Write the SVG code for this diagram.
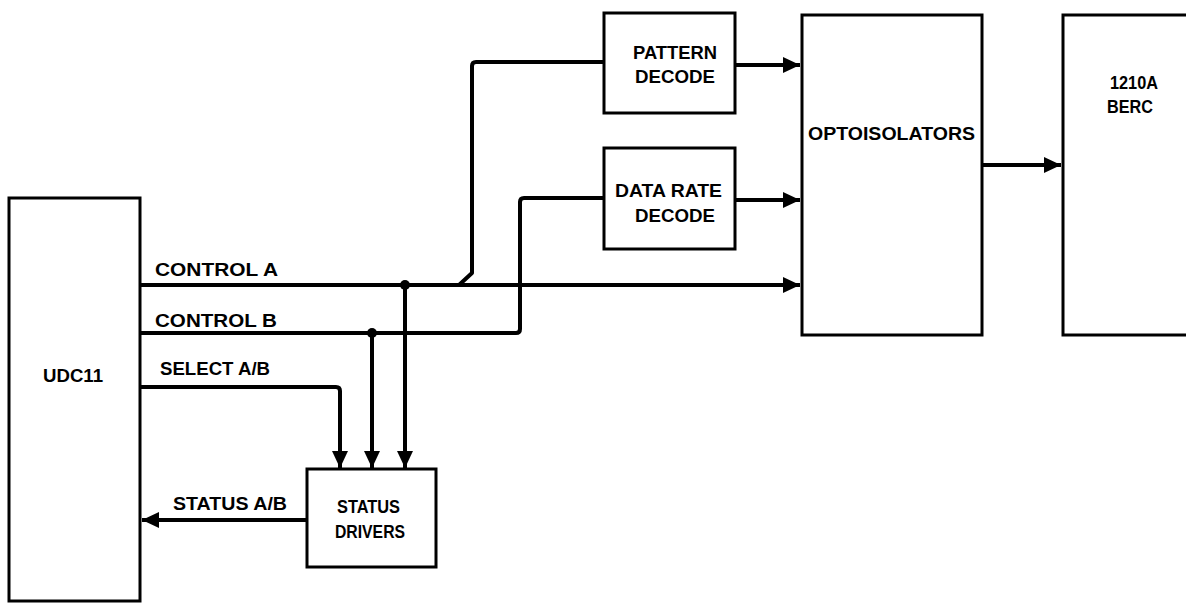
<svg xmlns="http://www.w3.org/2000/svg" width="1186" height="603" viewBox="0 0 1186 603">
<defs>
<style>
.box{fill:#fff;stroke:#000;stroke-width:3}
.ln{fill:none;stroke:#000;stroke-width:4;stroke-linejoin:round}
.t{font-family:"Liberation Sans",Arial,sans-serif;font-weight:bold;font-size:18px;fill:#000}
.dot{fill:#000}
</style>
<marker id="ah" markerWidth="17" markerHeight="16" refX="17" refY="8" orient="auto" markerUnits="userSpaceOnUse">
<path d="M0,0 L17,8 L0,16 Z" fill="#000"/>
</marker>
</defs>
<rect width="1186" height="603" fill="#fff"/>
<g id="udc11">
<rect class="box" x="9" y="198" width="131" height="403"/>
<text class="t" x="43" y="382" textLength="60" lengthAdjust="spacingAndGlyphs">UDC11</text>
</g>
<g id="pattern-decode">
<rect class="box" x="604" y="13" width="131" height="100"/>
<text class="t" x="633" y="59" textLength="84" lengthAdjust="spacingAndGlyphs">PATTERN</text>
<text class="t" x="635" y="83" textLength="80" lengthAdjust="spacingAndGlyphs">DECODE</text>
</g>
<g id="data-rate-decode">
<rect class="box" x="604" y="148" width="131" height="101"/>
<text class="t" x="615" y="197" textLength="107" lengthAdjust="spacingAndGlyphs">DATA RATE</text>
<text class="t" x="635" y="222" textLength="80" lengthAdjust="spacingAndGlyphs">DECODE</text>
</g>
<g id="optoisolators">
<rect class="box" x="802" y="15" width="180" height="320"/>
<text class="t" x="808" y="140" textLength="167" lengthAdjust="spacingAndGlyphs">OPTOISOLATORS</text>
</g>
<g id="berc">
<rect class="box" x="1063" y="15" width="140" height="320"/>
<text class="t" x="1110" y="89" textLength="48" lengthAdjust="spacingAndGlyphs">1210A</text>
<text class="t" x="1107" y="113" textLength="46" lengthAdjust="spacingAndGlyphs">BERC</text>
</g>
<g id="status-drivers">
<rect class="box" x="307" y="469" width="129" height="98"/>
<text class="t" x="337" y="513" textLength="63" lengthAdjust="spacingAndGlyphs">STATUS</text>
<text class="t" x="335" y="538" textLength="70" lengthAdjust="spacingAndGlyphs">DRIVERS</text>
</g>
<g id="connectors">
<path class="ln" d="M140,285 L800,285" marker-end="url(#ah)"/>
<path class="ln" d="M459,285 L472,273 L472,66 Q472,62 476,62 L604,62"/>
<path class="ln" d="M735,65 L800,65" marker-end="url(#ah)"/>
<path class="ln" d="M140,333 L516,333 Q520,333 520,329 L520,202 Q520,198 524,198 L604,198"/>
<path class="ln" d="M735,200 L800,200" marker-end="url(#ah)"/>
<path class="ln" d="M982,165 L1061,165" marker-end="url(#ah)"/>
<path class="ln" d="M140,387 L336,387 Q340,387 340,391 L340,468" marker-end="url(#ah)"/>
<path class="ln" d="M372,333 L372,468" marker-end="url(#ah)"/>
<path class="ln" d="M405,285 L405,468" marker-end="url(#ah)"/>
<path class="ln" d="M307,520 L142,520" marker-end="url(#ah)"/>
<circle class="dot" cx="405" cy="285" r="5"/>
<circle class="dot" cx="372" cy="333" r="5"/>
<text class="t" x="155" y="276" textLength="123" lengthAdjust="spacingAndGlyphs">CONTROL A</text>
<text class="t" x="155" y="327" textLength="122" lengthAdjust="spacingAndGlyphs">CONTROL B</text>
<text class="t" x="160" y="375" textLength="110" lengthAdjust="spacingAndGlyphs">SELECT A/B</text>
<text class="t" x="173" y="510" textLength="114" lengthAdjust="spacingAndGlyphs">STATUS A/B</text>
</g>
</svg>
